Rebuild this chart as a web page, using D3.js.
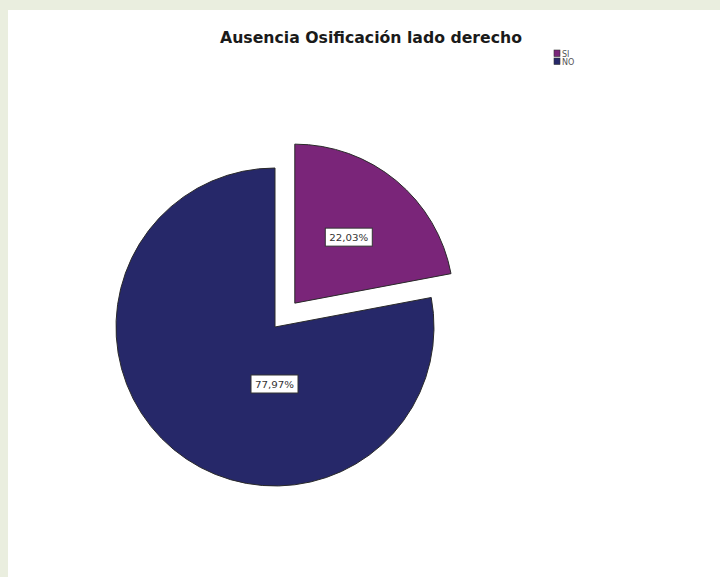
<!DOCTYPE html>
<html>
<head>
<meta charset="utf-8">
<script src="https://cdn.jsdelivr.net/npm/d3@7"></script>
<style>
  html, body { margin: 0; padding: 0; background: #eaeedf; }
  svg { display: block; }
</style>
</head>
<body>
<svg id="chart" width="720" height="577"></svg>
<script>
// Pie data: share of cases with absent ossification on the right side
const categories = ["SI", "NO"];
const percentages = [22.03, 77.97];
const labels = ["22,03%", "77,97%"];
const colors = ["#7a2579", "#262869"];
const explodedSlices = [true, false];

const svg = d3.select("#chart");
const W = 720, H = 577;
const FONT = "DejaVu Sans, Verdana, sans-serif";

// white plotting panel
svg.append("rect").attr("x", 8).attr("y", 10).attr("width", W - 8).attr("height", H - 10).attr("fill", "#ffffff");

// title
svg.append("text")
  .attr("x", 371).attr("y", 43)
  .attr("text-anchor", "middle")
  .attr("font-family", FONT)
  .attr("font-weight", "bold")
  .attr("font-size", 15)
  .attr("textLength", 302)
  .attr("lengthAdjust", "spacingAndGlyphs")
  .attr("fill", "#1a1a1a")
  .text("Ausencia Osificación lado derecho");

// legend
const legend = svg.append("g").attr("transform", "translate(554,50)");
categories.forEach((c, i) => {
  const g = legend.append("g").attr("transform", `translate(0,${i * 8})`);
  g.append("rect").attr("width", 6).attr("height", 6.5)
    .attr("fill", colors[i]).attr("stroke", "#333").attr("stroke-width", 0.6);
  g.append("text").attr("x", 8).attr("y", 6.5)
    .attr("font-family", FONT)
    .attr("font-size", 8).attr("fill", "#555").text(c);
});

// pie geometry
const cx = 275, cy = 327, radius = 159, explodeDist = 31;
const pie = d3.pie().sort(null).value(d => d)(percentages);
const arc = d3.arc().innerRadius(0).outerRadius(radius);

// label anchor offsets from each slice's own origin
const labelOffsets = [[54, -66], [-0.5, 57]];

const g = svg.append("g").attr("transform", `translate(${cx},${cy})`);

pie.forEach((p, i) => {
  const mid = (p.startAngle + p.endAngle) / 2;
  const off = explodedSlices[i] ? explodeDist : 0;
  const dx = Math.sin(mid) * off, dy = -Math.cos(mid) * off;
  const sg = g.append("g").attr("transform", `translate(${dx},${dy})`);
  sg.append("path").attr("d", arc(p))
    .attr("fill", colors[i])
    .attr("stroke", "#2a2a2a").attr("stroke-width", 1)
    .attr("stroke-linejoin", "miter");

  const [lx, ly] = labelOffsets[i];
  const lg = sg.append("g").attr("transform", `translate(${lx},${ly})`);
  lg.append("rect")
    .attr("x", -23.5).attr("y", -9)
    .attr("width", 47).attr("height", 18)
    .attr("fill", "#ffffff").attr("stroke", "#333").attr("stroke-width", 1);
  lg.append("text")
    .attr("text-anchor", "middle").attr("y", 3.5)
    .attr("font-family", FONT)
    .attr("font-size", 9.5).attr("fill", "#333")
    .attr("textLength", 39).attr("lengthAdjust", "spacingAndGlyphs")
    .text(labels[i]);
});
</script>
</body>
</html>
